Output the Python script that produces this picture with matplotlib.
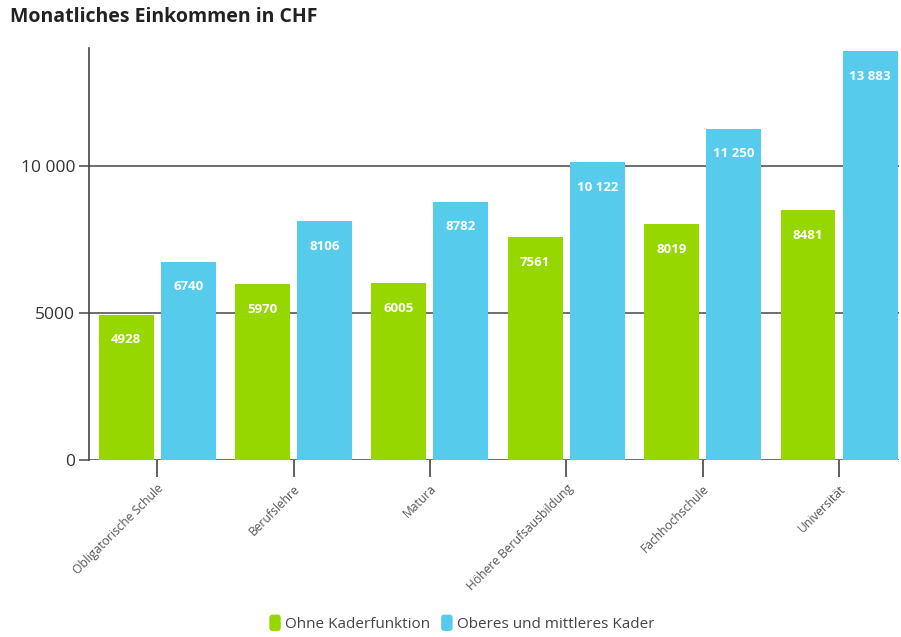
import numpy as np
import matplotlib.pyplot as plt
from matplotlib.patches import FancyBboxPatch
from matplotlib.legend_handler import HandlerPatch

plt.rcParams['font.family'] = ['Open Sans', 'DejaVu Sans']

categories = ['Obligatorische Schule', 'Berufslehre', 'Matura',
              'Höhere Berufsausbildung', 'Fachhochschule', 'Universität']
ohne_kader = [4928, 5970, 6005, 7561, 8019, 8481]
mit_kader = [6740, 8106, 8782, 10122, 11250, 13883]
series_names = ['Ohne Kaderfunktion', 'Oberes und mittleres Kader']
yticks = [0, 5000, 10000]

green = '#97d700'
blue = '#56cbec'


def fmt(v):
    # thousands separated by a space, but only from 10 000 upwards
    return '{:,}'.format(v).replace(',', ' ') if v >= 10000 else str(v)


class RoundHandler(HandlerPatch):
    # small rounded square for the legend
    def create_artists(self, legend, orig_handle, xdescent, ydescent, width, height, fontsize, trans):
        p = FancyBboxPatch((-xdescent, -ydescent - 1), width, height + 2,
                           boxstyle='round,pad=0,rounding_size=2.5',
                           fc=orig_handle.get_facecolor(), ec='none', transform=trans)
        return [p]


fig = plt.figure(figsize=(9.01, 6.37), dpi=100)
ax = fig.add_axes([89 / 901, 1 - 460 / 637, 810 / 901, 412 / 637])

x = np.arange(len(categories))
w = 0.403
gap = 0.026
b1 = ax.bar(x - gap - w / 2, ohne_kader, width=w, color=green, zorder=3)
b2 = ax.bar(x + gap + w / 2, mit_kader, width=w, color=blue, zorder=3)

for bars, vals in ((b1, ohne_kader), (b2, mit_kader)):
    for b, v in zip(bars, vals):
        ax.annotate(fmt(v), (b.get_x() + b.get_width() / 2, v), xytext=(0, -18),
                    textcoords='offset points', ha='center', va='center',
                    color='white', fontsize=9.5, fontweight='bold', zorder=4)

ax.set_xlim(-0.5, 5.44)
ax.set_ylim(0, 14000)
ax.set_yticks(yticks)
ax.set_yticklabels([fmt(v) for v in yticks], fontsize=12.5, color='#333333')
for v in yticks:
    ax.axhline(v, color='#555555', lw=1.2, zorder=2)

ax.set_xticks(x)
ax.set_xticklabels(categories, rotation=45, ha='right', rotation_mode='anchor',
                   fontsize=8.7, color='#555555')
ax.tick_params(axis='x', length=12, width=1.2, color='#444444', pad=4)
ax.tick_params(axis='y', length=7, width=1.2, color='#555555', pad=3)

for s in ['top', 'right', 'bottom']:
    ax.spines[s].set_visible(False)
ax.spines['left'].set_color('#444444')
ax.spines['left'].set_linewidth(1.2)

fig.text(10 / 901, 1 - 17 / 637, 'Monatliches Einkommen in CHF', fontsize=14,
         fontweight='bold', va='center', color='#222222')

h1 = ax.bar([0], [0], color=green, label=series_names[0])
h2 = ax.bar([0], [0], color=blue, label=series_names[1])
fig.legend(handles=[h1.patches[0], h2.patches[0]], labels=series_names,
           handler_map={h1.patches[0]: RoundHandler(), h2.patches[0]: RoundHandler()},
           loc='center', bbox_to_anchor=(462 / 901, 1 - 624 / 637),
           ncol=2, frameon=False, fontsize=11, handlelength=0.75, handleheight=1.0,
           handletextpad=0.3, columnspacing=0.7, labelcolor='#444444')

fig.savefig('out.png', dpi=100)
